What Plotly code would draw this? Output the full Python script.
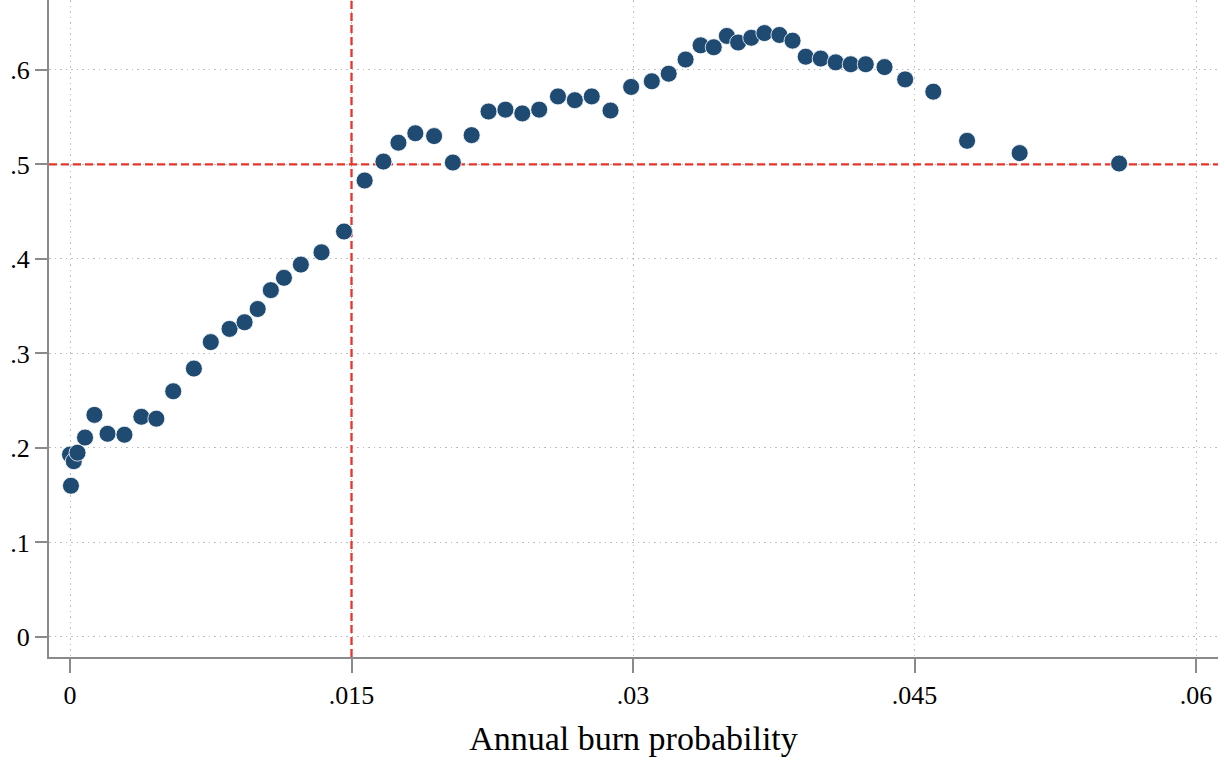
import plotly.graph_objects as go

burn_prob = [0.0, 0.00005, 0.0002, 0.0004, 0.0008, 0.0013, 0.0020, 0.0029, 0.0038, 0.0046,
             0.0055, 0.0066, 0.0075, 0.0085, 0.0093, 0.0100, 0.0107, 0.0114, 0.0123, 0.0134,
             0.0146, 0.0157, 0.0167, 0.0175, 0.0184, 0.0194, 0.0204, 0.0214, 0.0223, 0.0232,
             0.0241, 0.0250, 0.0260, 0.0269, 0.0278, 0.0288, 0.0299, 0.0310, 0.0319, 0.0328,
             0.0336, 0.0343, 0.0350, 0.0356, 0.0363, 0.0370, 0.0378, 0.0385, 0.0392, 0.0400,
             0.0408, 0.0416, 0.0424, 0.0434, 0.0445, 0.0460, 0.0478, 0.0506, 0.0559]
share = [0.193, 0.160, 0.186, 0.195, 0.211, 0.235, 0.215, 0.214, 0.233, 0.231,
         0.260, 0.284, 0.312, 0.326, 0.333, 0.347, 0.367, 0.380, 0.394, 0.407,
         0.429, 0.483, 0.503, 0.523, 0.533, 0.530, 0.502, 0.531, 0.556, 0.558,
         0.554, 0.558, 0.572, 0.568, 0.572, 0.557, 0.582, 0.588, 0.596, 0.611,
         0.626, 0.624, 0.636, 0.629, 0.634, 0.639, 0.637, 0.631, 0.614, 0.612,
         0.608, 0.606, 0.606, 0.603, 0.590, 0.577, 0.525, 0.512, 0.501]

x_ticks = [0, 0.015, 0.03, 0.045, 0.06]
x_tick_labels = ["0", ".015", ".03", ".045", ".06"]
y_ticks = [0, 0.1, 0.2, 0.3, 0.4, 0.5, 0.6]
y_tick_labels = ["0", ".1", ".2", ".3", ".4", ".5", ".6"]
ref_x = 0.015
ref_y = 0.5
x_range = [-0.00112, 0.06117]
y_range = [-0.0212, 0.674]

red = "#e8352b"
serif = "Liberation Serif, Times New Roman, serif"
fig = go.Figure()
fig.add_trace(go.Scatter(x=[ref_x, ref_x], y=y_range, mode="lines",
                         line=dict(color=red, width=2.3, dash="8px,4px"), hoverinfo="skip"))
fig.add_trace(go.Scatter(x=x_range, y=[ref_y, ref_y], mode="lines",
                         line=dict(color=red, width=2.3, dash="8px,4px"), hoverinfo="skip"))
fig.add_trace(go.Scatter(x=burn_prob, y=share, mode="markers",
                         marker=dict(size=17, color="#1f4a72",
                                     line=dict(color="white", width=0.8))))

axis_font = dict(family=serif, size=26, color="black")
fig.update_layout(
    width=1225, height=761,
    margin=dict(l=49, r=7, t=0, b=104),
    paper_bgcolor="white", plot_bgcolor="white",
    showlegend=False,
    font=axis_font,
    xaxis=dict(range=x_range, tickvals=x_ticks, ticktext=x_tick_labels,
               showline=True, linecolor="#8a8a8a", linewidth=2,
               ticks="outside", ticklen=14, tickcolor="#8a8a8a", tickwidth=1.5,
               showgrid=True, gridcolor="#bdbdbd", griddash="1.5px,4px", gridwidth=1.2,
               zeroline=False, tickfont=axis_font,
               title=dict(text="Annual burn probability",
                          font=dict(family=serif, size=34, color="black"),
                          standoff=17)),
    yaxis=dict(range=y_range, tickvals=y_ticks, ticktext=y_tick_labels,
               showline=True, linecolor="#8a8a8a", linewidth=2,
               ticks="outside", ticklen=12, tickcolor="#8a8a8a", tickwidth=1.5,
               showgrid=True, gridcolor="#bdbdbd", griddash="1.5px,4px", gridwidth=1.2,
               zeroline=False, tickfont=axis_font),
)
fig.write_html("out.html")
